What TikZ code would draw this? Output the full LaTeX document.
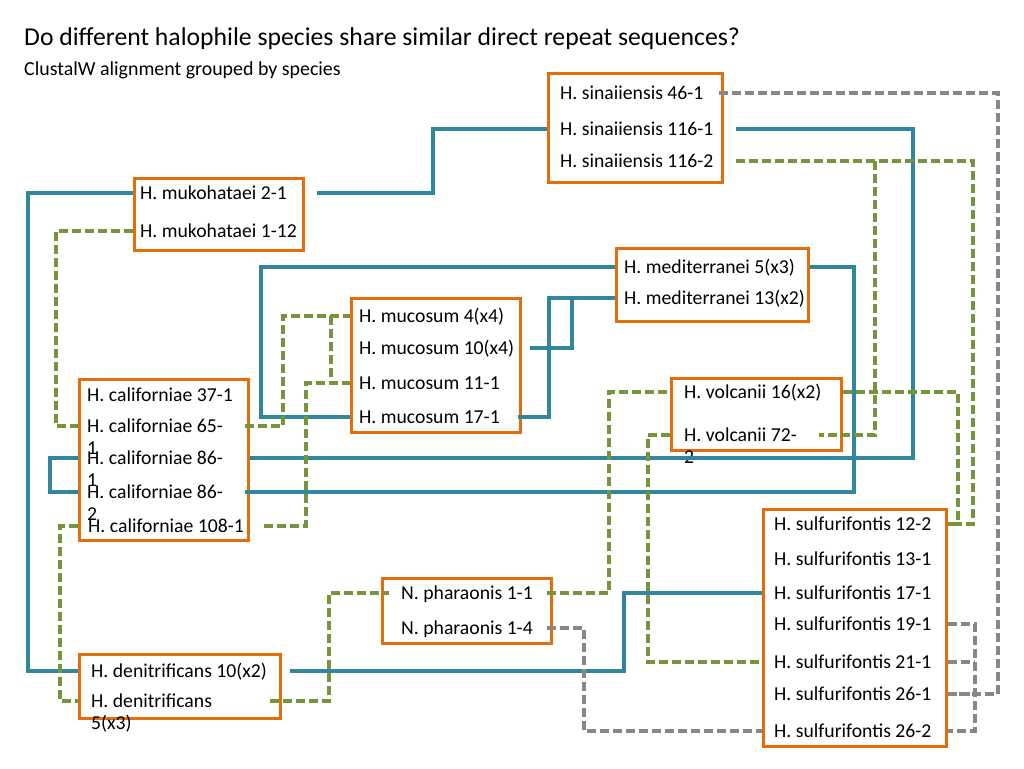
\documentclass[tikz,border=0pt]{standalone}
\usepackage{fontspec}
\setmainfont{Carlito}
\usetikzlibrary{calc}
\definecolor{orbox}{RGB}{228,108,10}
\definecolor{tealln}{RGB}{49,133,156}
\definecolor{greenln}{RGB}{119,147,60}
\definecolor{grayln}{RGB}{135,135,135}
\newcommand\wrapline[1]{\smash{\rlap{\raisebox{-22.5pt}{#1}}}}
\tikzset{
  box/.style={draw=orbox, line width=2.8pt, inner sep=0pt},
  lbl/.style={anchor=west, inner sep=0pt, font=\fontsize{19.7}{23}\selectfont, text height=12.6pt, text depth=0pt},
  bl/.style={draw=tealln, line width=3.1pt},
  gn/.style={draw=greenln, line width=3.1pt, dash pattern=on 9pt off 4pt},
  gy/.style={draw=grayln, line width=3.1pt, dash pattern=on 9pt off 4pt},
}
\begin{document}
\begin{tikzpicture}[x=1pt,y=-1pt]
\useasboundingbox[fill=white] (0,0) rectangle (1024,768);
% title
\node[anchor=west, inner sep=0pt, font=\fontsize{25.7}{30}\selectfont, text height=16.4pt, text depth=0pt] (title) at (24,37) {Do different halophile species share similar direct repeat sequences?};
\node[anchor=west, inner sep=0pt, font=\fontsize{19.9}{23}\selectfont, text height=12.7pt, text depth=0pt] (subtitle) at (24,69) {ClustalW alignment grouped by species};
% boxes
\node[box, minimum width=174.2pt, minimum height=109.2pt] (sin) at (635.5,128) {};
\node[box, minimum width=169.2pt, minimum height=72.2pt] (muk) at (219,214.5) {};
\node[box, minimum width=192.2pt, minimum height=73.2pt] (med) at (712.5,285) {};
\node[box, minimum width=169.2pt, minimum height=134.2pt] (muc) at (436,365.5) {};
\node[box, minimum width=169.2pt, minimum height=161.2pt] (cal) at (164,460) {};
\node[box, minimum width=170.2pt, minimum height=72.2pt] (vol) at (756.5,414.5) {};
\node[box, minimum width=183.2pt, minimum height=237.2pt] (sul) at (855,628) {};
\node[box, minimum width=169.2pt, minimum height=65.2pt] (pha) at (467,611) {};
\node[box, minimum width=201.2pt, minimum height=64.2pt] (den) at (180,686.5) {};
% labels
\node[lbl] (sin461) at (560,93) {H. sinaiiensis 46-1};
\node[lbl] (sin1161) at (560,129) {H. sinaiiensis 116-1};
\node[lbl] (sin1162) at (560,161) {H. sinaiiensis 116-2};
\node[lbl] (muk21) at (140,193) {H. mukohataei 2-1};
\node[lbl] (muk112) at (140,231) {H. mukohataei 1-12};
\node[lbl] (med5) at (624,267) {H. mediterranei 5(x3)};
\node[lbl] (med13) at (624,298) {H. mediterranei 13(x2)};
\node[lbl] (muc4) at (359,316) {H. mucosum 4(x4)};
\node[lbl] (muc10) at (359,348) {H. mucosum 10(x4)};
\node[lbl] (muc111) at (359,383) {H. mucosum 11-1};
\node[lbl] (muc171) at (359,417) {H. mucosum 17-1};
\node[lbl] (cal371) at (87,395) {H. californiae 37-1};
\node[lbl] (cal651) at (87,426) {\wrapline{1}H. californiae 65-};
\node[lbl] (cal861) at (87,458) {\wrapline{1}H. californiae 86-};
\node[lbl] (cal862) at (87,492) {\wrapline{2}H. californiae 86-};
\node[lbl] (cal1081) at (88,526) {H. californiae 108-1};
\node[lbl] (vol16) at (684,392) {H. volcanii 16(x2)};
\node[lbl] (vol72) at (684,435) {\wrapline{2}H. volcanii 72-};
\node[lbl] (sul122) at (774,524) {H. sulfurifontis 12-2};
\node[lbl] (sul131) at (774,559) {H. sulfurifontis 13-1};
\node[lbl] (sul171) at (774,593) {H. sulfurifontis 17-1};
\node[lbl] (sul191) at (774,624) {H. sulfurifontis 19-1};
\node[lbl] (sul211) at (774,662) {H. sulfurifontis 21-1};
\node[lbl] (sul261) at (774,694) {H. sulfurifontis 26-1};
\node[lbl] (sul262) at (774,731) {H. sulfurifontis 26-2};
\node[lbl] (pha11) at (401,593) {N. pharaonis 1-1};
\node[lbl] (pha14) at (401,628) {N. pharaonis 1-4};
\node[lbl] (den10) at (91,671) {H. denitrificans 10(x2)};
\node[lbl] (den5) at (91,701) {\wrapline{5(x3)}H. denitrificans};
% routing columns
\foreach \cx in {28,50,56,60,261,283,306,329,331,433,549,572,584,609,624,648,854,875,913,958,973,975,998}
  \coordinate (c\cx) at (\cx,0);
% blue connectors
\draw[bl] (muk21 -| muk.west) -| (c28 |- den10) -- (den10 -| den.west);
\draw[bl] ($(muk21 -| muk.east)+(12,0)$) -| (c433 |- sin1161) -- (sin1161 -| sin.west);
\draw[bl] ($(sin1161 -| sin.east)+(12,0)$) -| (c913 |- cal861) -- (cal861 -| cal.east);
\draw[bl] (cal861 -| cal.west) -| (c50 |- cal862) -- (cal862 -| cal.west);
\draw[bl] (med5 -| med.east) -| (c854 |- cal862) -- ($(cal862 -| cal.east)+(-5,0)$);
\draw[bl] (med5 -| med.west) -| (c261 |- muc171) -- (muc171 -| muc.west);
\draw[bl] (med13 -| med.west) -| (c549 |- muc171) -- ($(muc171 -| muc.east)+(-4,0)$);
\draw[bl] ($(muc10 -| muc.east)+(8,0)$) -| (c572 |- med13);
\draw[bl] ($(den10 -| den.east)+(8,0)$) -| (c624 |- sul171) -- (sul171 -| sul.west);
% green connectors
\draw[gn] (muk112 -| muk.west) -| (c56 |- cal651) -- (cal651 -| cal.west);
\draw[gn] ($(cal651 -| cal.east)+(-5,0)$) -| (c283 |- muc4) -- (muc4 -| muc.west);
\draw[gn] (c331 |- muc4) -- (c331 |- muc111);
\draw[gn] ($(cal1081 -| cal.east)+(14,0)$) -| (c306 |- muc111) -- (muc111 -| muc.west);
\draw[gn] (cal1081 -| cal.west) -| (c60 |- den5) -- (den5 -| den.west);
\draw[gn] ($(den5 -| den.east)+(-12,0)$) -| (c329 |- pha11) -- ($(pha11 -| pha.west)+(8,0)$);
\draw[gn] ($(pha11 -| pha.east)+(-6,0)$) -| (c609 |- vol16) -- (vol16 -| vol.west);
\draw[gn] (vol16 -| vol.east) -| (c958 |- sul122) -- (sul122 -| sul.east);
\draw[gn] ($(sin1162 -| sin.east)+(12,0)$) -| (c973 |- sul122) -- (sul122 -| sul.east);
\draw[gn] (c875 |- sin1162) |- ($(vol72 -| vol.east)+(-24,0)$);
\draw[gn] (vol72 -| vol.west) -| (c648 |- sul211) -- (sul211 -| sul.west);
% gray connectors
\draw[gy] ($(sin461 -| sin.east)+(-5,0)$) -| (c998 |- sul261) -- (sul261 -| sul.east);
\draw[gy] (sul191 -| sul.east) -| (c975 |- sul262) -- (sul262 -| sul.east);
\draw[gy] (sul211 -| sul.east) -- (c975 |- sul211);
\draw[gy] (sul261 -| sul.east) -- (c975 |- sul261);
\draw[gy] ($(pha14 -| pha.east)+(-6,0)$) -| (c584 |- sul262) -- (sul262 -| sul.west);
\end{tikzpicture}
\end{document}
